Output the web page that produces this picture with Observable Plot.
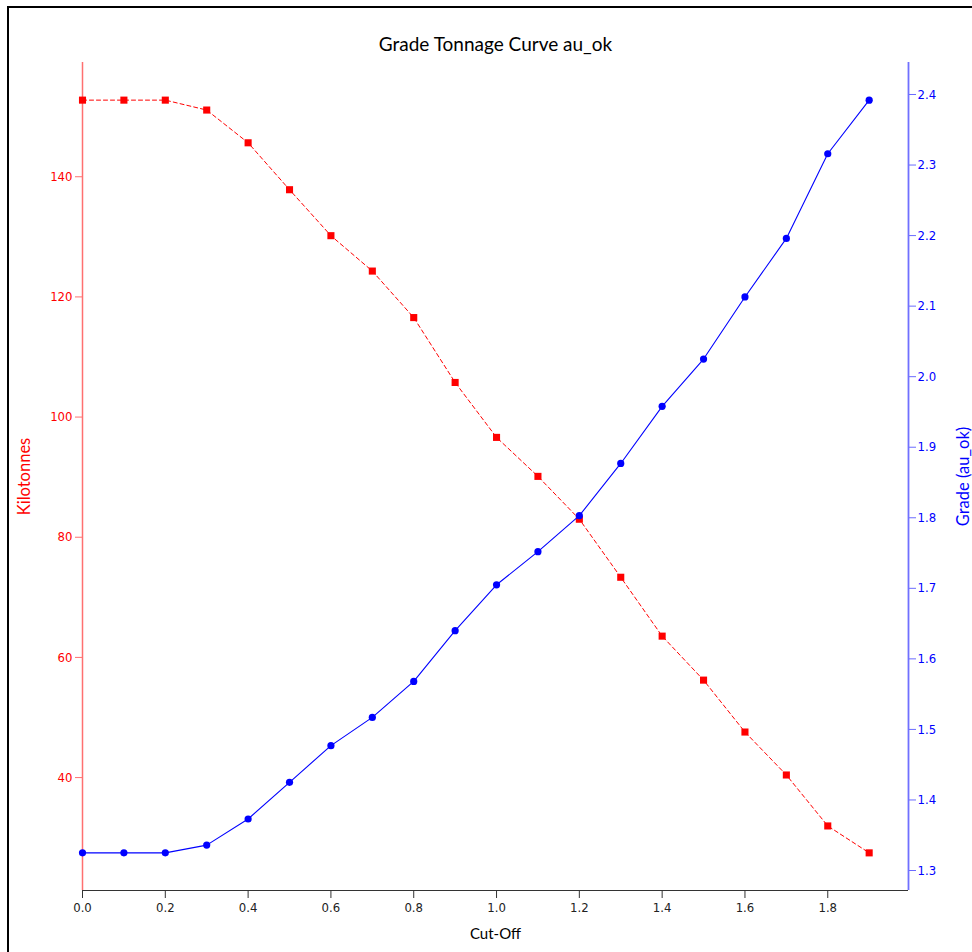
<!DOCTYPE html>
<html>
<head>
<meta charset="utf-8">
<script src="https://cdn.jsdelivr.net/npm/d3@7"></script>
<script src="https://cdn.jsdelivr.net/npm/@observablehq/plot@0.6"></script>
<style>
  html, body { margin: 0; padding: 0; overflow: hidden; background: #fff; }
  #wrap { position: relative; width: 972px; height: 952px; }
  #border { position: absolute; left: 7px; top: 6px; width: 1100px; height: 1100px; border: 2px solid #000; box-sizing: border-box; }
  #chart { position: absolute; left: 0; top: 0; }
</style>
</head>
<body>
<div id="wrap"><div id="border"></div><div id="chart"></div></div>
<script>
// ---- data ----
const cutoff = [0.0, 0.1, 0.2, 0.3, 0.4, 0.5, 0.6, 0.7, 0.8, 0.9, 1.0, 1.1, 1.2, 1.3, 1.4, 1.5, 1.6, 1.7, 1.8, 1.9];
const kilotonnes = [152.75, 152.75, 152.75, 151.1, 145.65, 137.84, 130.19, 124.3, 116.56, 105.76, 96.62, 90.13, 83.0, 73.34, 63.54, 56.22, 47.58, 40.43, 31.95, 27.47];
const grade = [1.325, 1.325, 1.325, 1.336, 1.373, 1.425, 1.477, 1.517, 1.568, 1.640, 1.705, 1.752, 1.803, 1.877, 1.958, 2.025, 2.113, 2.196, 2.316, 2.392];
const xTicks = [0.0, 0.2, 0.4, 0.6, 0.8, 1.0, 1.2, 1.4, 1.6, 1.8];
const kTicks = [40, 60, 80, 100, 120, 140];
const gTicks = [1.3, 1.4, 1.5, 1.6, 1.7, 1.8, 1.9, 2.0, 2.1, 2.2, 2.3, 2.4];
const titleText = "Grade Tonnage Curve au_ok";
const xLabel = "Cut-Off";
const kLabel = "Kilotonnes";
const gLabel = "Grade (au_ok)";

// ---- scales (5% padding like the source) ----
const pad = (lo, hi) => { const r = hi - lo; return [lo - 0.05 * r, hi + 0.05 * r]; };
const [kLo, kHi] = pad(d3.min(kilotonnes), d3.max(kilotonnes));
const [gLo, gHi] = pad(d3.min(grade), d3.max(grade));
const xMax = d3.max(cutoff) * 1.05;
const toK = g => kLo + (g - gLo) / (gHi - gLo) * (kHi - kLo);
const fromK = k => gLo + (k - kLo) / (kHi - kLo) * (gHi - gLo);

const tData = cutoff.map((c, i) => ({ c, v: kilotonnes[i] }));
const gData = cutoff.map((c, i) => ({ c, v: toK(grade[i]) }));

const tickFont = "'DejaVu Sans Condensed', 'Liberation Sans', sans-serif";
const labelFont = "Lato, 'Open Sans', sans-serif";

const chart = Plot.plot({
  width: 972,
  height: 952,
  marginLeft: 82,
  marginRight: 64,
  marginTop: 62,
  marginBottom: 62,
  style: { fontFamily: tickFont, fontSize: "13px", background: "transparent" },
  x: { domain: [0, xMax] },
  y: { domain: [kLo, kHi] },
  marks: [
    Plot.ruleY([kLo], { stroke: "#333", strokeWidth: 1.2 }),
    Plot.ruleX([0], { stroke: "#ff7070", strokeWidth: 1.5 }),
    Plot.ruleX([xMax], { stroke: "#7070ff", strokeWidth: 1.8 }),
    Plot.axisX({ ticks: xTicks, tickFormat: d3.format(".1f"), tickSize: 8, tickPadding: 4, stroke: "#333", fill: "#222", label: null, fontSize: 13, fontFamily: tickFont }),
    Plot.axisY({ anchor: "left", ticks: kTicks, tickFormat: d => String(d), tickSize: 7, tickPadding: 3, stroke: "#ff7070", fill: "#ff0000", label: null, fontSize: 13, fontFamily: tickFont }),
    Plot.axisY({ anchor: "right", ticks: gTicks.map(toK), tickFormat: k => fromK(k).toFixed(1), tickSize: 7, tickPadding: 2, stroke: "#6b6bff", fill: "#0000ff", label: null, fontSize: 13, fontFamily: tickFont }),
    Plot.line(tData, { x: "c", y: "v", stroke: "#ff0000", strokeWidth: 1, strokeDasharray: "4,3" }),
    Plot.dot(tData, { x: "c", y: "v", symbol: "square", r: 4, fill: "#ff0000", stroke: "none" }),
    Plot.line(gData, { x: "c", y: "v", stroke: "#0000ff", strokeWidth: 1.1 }),
    Plot.dot(gData, { x: "c", y: "v", r: 3.6, fill: "#0000ff", stroke: "none" }),
    Plot.text([titleText], { frameAnchor: "top", dy: -25, fontSize: 19, fontFamily: labelFont, fill: "#000", textAnchor: "middle" }),
    Plot.text([xLabel], { frameAnchor: "bottom", dy: 48, fontSize: 15, fontFamily: labelFont, fill: "#000", textAnchor: "middle" }),
    Plot.text([kLabel], { frameAnchor: "left", dx: -58, rotate: -90, fontSize: 16.5, fontFamily: labelFont, fill: "#ff0000", textAnchor: "middle" }),
    Plot.text([gLabel], { frameAnchor: "right", dx: 55, rotate: -90, fontSize: 16.5, fontFamily: labelFont, fill: "#0000ff", textAnchor: "middle" })
  ]
});
document.getElementById("chart").appendChild(chart);
</script>
</body>
</html>
